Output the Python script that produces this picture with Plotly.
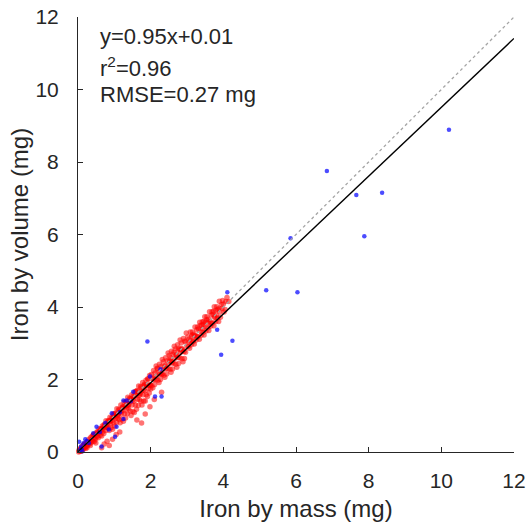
import plotly.graph_objects as go

# ---- data ----
red_x = [
    0.02,0.04,0.05,0.07,0.08,0.10,0.11,0.12,0.14,0.15,0.17,0.18,0.20,0.21,0.23,0.24,0.26,0.27,0.29,0.30,
    0.32,0.33,0.35,0.36,0.38,0.39,0.41,0.42,0.44,0.45,0.47,0.48,0.50,0.03,0.09,0.16,0.25,0.34,0.43,0.49,
    0.52,0.53,0.55,0.56,0.58,0.59,0.61,0.62,0.64,0.65,0.67,0.68,0.70,0.71,0.73,0.74,0.76,0.77,0.79,0.80,
    0.82,0.83,0.85,0.86,0.88,0.89,0.91,0.92,0.94,0.95,0.97,0.98,1.00,1.01,1.03,1.04,1.06,1.07,1.09,1.10,
    1.12,1.13,1.15,1.16,1.18,1.19,1.21,1.22,1.24,1.25,1.27,1.28,1.30,1.31,1.33,1.34,1.36,1.37,1.39,1.40,
    1.42,1.43,1.45,1.46,1.48,1.49,1.51,1.52,1.54,1.55,1.57,1.58,1.60,1.61,1.63,1.64,1.66,1.67,1.69,1.70,
    1.72,1.73,1.75,1.76,1.78,1.79,1.81,1.82,1.84,1.85,1.87,1.88,1.90,1.91,1.93,1.94,1.96,1.97,1.99,2.00,
    2.02,2.03,2.05,2.06,2.08,2.09,2.11,2.12,2.14,2.15,2.17,2.18,2.20,2.21,2.23,2.24,2.26,2.27,2.29,2.30,
    2.32,2.33,2.35,2.36,2.38,2.39,2.41,2.42,2.44,2.45,2.47,2.48,2.50,2.51,2.53,2.54,2.56,2.57,2.59,2.60,
    2.62,2.63,2.65,2.66,2.68,2.69,2.71,2.72,2.74,2.75,2.77,2.78,2.80,2.81,2.83,2.84,2.86,2.87,2.89,2.90,
    2.92,2.93,2.95,2.96,2.98,3.00,
    3.02,3.04,3.05,3.07,3.09,3.10,3.12,3.14,3.15,3.17,3.19,3.20,3.22,3.24,3.25,3.27,3.29,3.30,3.32,3.34,
    3.35,3.37,3.39,3.40,3.42,3.44,3.45,3.47,3.49,3.50,3.52,3.54,3.55,3.57,3.59,3.60,3.62,3.64,3.65,3.67,
    3.69,3.70,3.72,3.74,3.75,3.77,3.79,3.80,3.82,3.84,3.85,3.87,3.89,3.90,3.92,3.95,3.98,4.02,4.07,4.15,
    0.54,0.60,0.66,0.72,0.78,0.84,0.90,0.96,1.02,1.08,1.14,1.20,1.26,1.32,1.38,1.44,1.50,1.56,1.62,1.68,
    1.74,1.80,1.86,1.92,1.98,0.63,0.75,0.87,0.99,1.11,1.23,1.35,1.47,1.59,1.71,1.83,1.95,2.07,2.19,2.31,
    2.52,2.58,2.64,2.70,2.76,2.82,2.88,2.94,3.06,3.13,3.21,3.28,3.36,3.43,3.51,3.58,3.66,3.73,3.81,3.88,
    3.96,4.05,4.10,2.40,2.55,2.85,3.16,3.46,3.76,4.00,
    0.72,0.80,0.86,0.95,1.05,1.15,0.65,1.62,1.75,1.98,1.85,2.10,2.30,
]
red_y = [
    0.00,0.06,0.02,0.10,0.03,0.14,0.05,0.09,0.18,0.08,0.12,0.22,0.14,0.10,0.27,0.16,0.30,0.20,0.24,0.35,
    0.22,0.28,0.40,0.26,0.33,0.44,0.30,0.46,0.38,0.29,0.50,0.36,0.44,0.05,0.02,0.20,0.12,0.18,0.48,0.25,
    0.55,0.42,0.52,0.39,0.64,0.52,0.46,0.62,0.59,0.44,0.72,0.56,0.68,0.51,0.74,0.67,0.59,0.86,0.68,0.75,
    0.85,0.66,0.82,0.59,0.96,0.77,0.67,0.93,0.86,0.63,1.04,0.80,0.98,0.72,1.06,0.93,0.82,1.19,0.93,1.05,
    1.18,0.90,1.09,0.81,1.30,1.05,0.91,1.22,1.14,0.85,1.37,1.06,1.26,0.94,1.36,1.21,1.06,1.51,1.20,1.32,
    1.48,1.13,1.39,1.01,1.58,1.30,1.12,1.54,1.40,1.09,1.66,1.30,1.57,1.18,1.68,1.46,1.28,1.82,1.44,1.62,
    1.81,1.40,1.68,1.30,1.92,1.58,1.41,1.84,1.69,1.41,1.98,1.58,1.84,1.53,2.01,1.75,1.63,2.11,1.85,1.74,
    2.14,1.83,2.03,1.77,2.25,1.99,1.86,2.18,1.99,2.37,2.10,2.31,1.98,2.19,1.92,2.42,2.15,2.00,2.36,2.14,
    2.55,2.26,2.49,2.12,2.36,2.06,2.60,2.30,2.15,2.52,2.30,2.73,2.43,2.66,2.28,2.51,2.20,2.78,2.46,2.29,
    2.70,2.45,2.92,2.58,2.84,2.42,2.68,2.34,2.96,2.61,2.44,2.86,2.60,3.09,2.75,3.01,2.57,2.84,2.49,3.13,
    2.77,2.58,3.04,2.75,3.28,2.91,
    3.17,2.92,3.11,2.86,3.31,3.07,2.96,3.23,3.31,3.04,3.25,2.98,3.45,3.21,3.09,3.37,3.45,3.17,3.39,3.11,
    3.58,3.34,3.22,3.50,3.59,3.30,3.52,3.23,3.73,3.47,3.34,3.65,3.73,3.43,3.66,3.35,3.87,3.60,3.47,3.78,
    3.87,3.55,3.79,3.48,4.01,3.73,3.60,3.91,4.01,3.69,3.93,3.60,4.16,3.86,3.72,4.07,4.18,3.86,4.15,4.15,
    0.55,0.57,0.65,0.76,0.73,0.86,0.86,0.95,1.07,1.00,1.16,1.14,1.25,1.39,1.28,1.47,1.43,1.54,1.70,1.56,
    1.77,1.71,1.84,2.02,1.84,0.64,0.71,0.86,1.04,1.03,1.25,1.28,1.46,1.67,1.59,1.87,1.85,2.05,2.30,2.15,
    2.52,2.50,2.75,2.67,2.82,2.82,2.79,3.06,3.03,3.19,3.21,3.18,3.49,3.40,3.58,3.58,3.55,3.88,3.77,3.96,
    3.96,3.93,4.26,2.38,2.60,2.85,3.07,3.60,3.72,4.08,
    0.22,0.30,0.18,0.35,0.48,0.55,0.12,0.88,0.80,1.25,1.05,1.45,1.65,
]
blue_x = [10.21,6.85,7.66,8.37,7.88,5.85,5.18,6.04,4.11,3.83,4.25,3.94,1.91,2.27,2.12,2.30,1.25,1.34,1.52,
          0.93,1.25,1.06,1.02,0.51,0.42,0.65,0.15,0.10,0.05,1.98,0.20,0.30,0.08,0.03,0.12,0.25,0.60,0.75,
          0.85,1.15,1.45]
blue_y = [8.89,7.75,7.09,7.15,5.95,5.90,4.46,4.41,4.41,3.37,3.07,2.68,3.05,2.28,1.53,1.53,1.42,1.42,1.66,
          1.07,0.91,0.70,0.42,0.70,0.52,0.15,0.24,0.10,0.05,2.08,0.35,0.25,0.15,0.28,0.02,0.30,0.55,0.80,
          0.62,1.10,1.40]

fit_slope = 0.95
fit_intercept = 0.01
line_x = [0, 12]
tick_vals = [0, 2, 4, 6, 8, 10, 12]
stats_text = ["y=0.95x+0.01", "r<sup>2</sup>=0.96", "RMSE=0.27 mg"]
stats_y = [11.47, 10.63, 9.86]

INK = "#262626"
FONT = "Liberation Sans, Arial, Helvetica, sans-serif"

fig = go.Figure()
fig.add_trace(go.Scatter(x=red_x, y=red_y, mode="markers",
                         marker=dict(color="rgba(255,0,0,0.55)", size=5.5, line=dict(width=0)),
                         cliponaxis=False, showlegend=False))
fig.add_trace(go.Scatter(x=blue_x, y=blue_y, mode="markers",
                         marker=dict(color="rgba(0,0,255,0.7)", size=4.5, line=dict(width=0)),
                         cliponaxis=False, showlegend=False))
fig.add_trace(go.Scatter(x=line_x, y=line_x, mode="lines",
                         line=dict(color="#a5a5a5", width=1.3, dash="dot"), showlegend=False))
fig.add_trace(go.Scatter(x=line_x, y=[fit_slope * v + fit_intercept for v in line_x], mode="lines",
                         line=dict(color="black", width=1.4), showlegend=False))

for t, yy in zip(stats_text, stats_y):
    fig.add_annotation(x=0.55, y=yy, xref="x", yref="y", text=t, showarrow=False,
                       xanchor="left", yanchor="middle",
                       font=dict(family=FONT, size=22, color=INK))

axis_common = dict(range=[0, 12], tickvals=tick_vals, ticks="inside", ticklen=5,
                   tickcolor=INK, linecolor=INK, linewidth=1, showline=True,
                   showgrid=False, zeroline=False, mirror=False, automargin=False,
                   tickfont=dict(family=FONT, size=21, color=INK))
fig.update_xaxes(**axis_common, ticklabelstandoff=10,
                 title=dict(text="Iron by mass (mg)", font=dict(family=FONT, size=24, color=INK), standoff=8))
fig.update_yaxes(**axis_common, ticklabelstandoff=14,
                 title=dict(text="Iron by volume (mg)", font=dict(family=FONT, size=24, color=INK), standoff=0))

fig.update_layout(width=529, height=529, margin=dict(l=78, r=15, t=17, b=77),
                  plot_bgcolor="white", paper_bgcolor="white")
fig.write_html("out.html", config={"displayModeBar": False},
               post_script="document.body.style.margin='0';document.body.style.overflow='hidden';")
